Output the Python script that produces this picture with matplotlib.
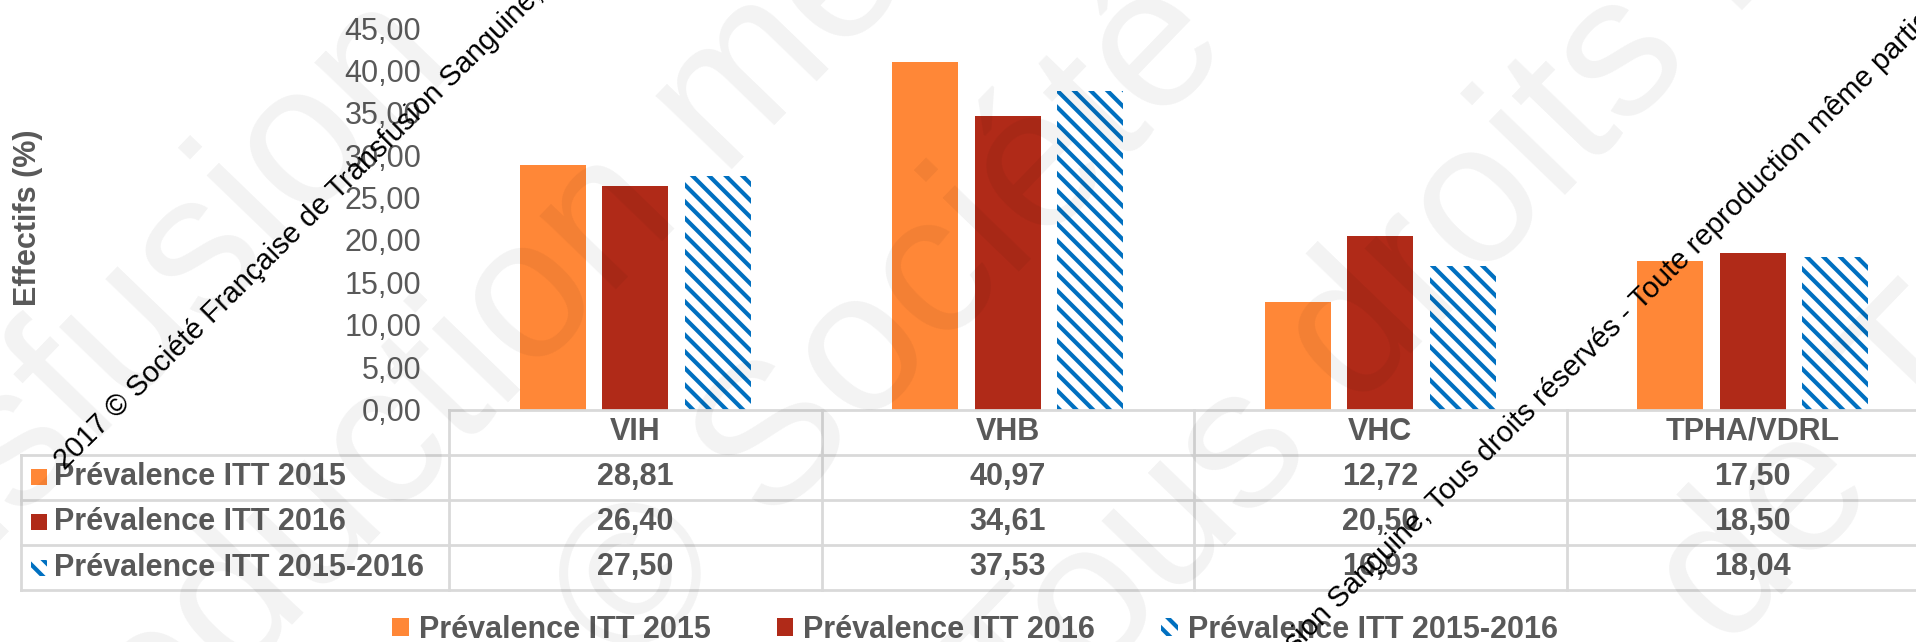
import numpy as np
import matplotlib.pyplot as plt
from matplotlib.ticker import FuncFormatter
from matplotlib.transforms import blended_transform_factory
from matplotlib.patches import Rectangle
from matplotlib.lines import Line2D

# données
categories = ['VIH', 'VHB', 'VHC', 'TPHA/VDRL']
series = ['Prévalence ITT 2015', 'Prévalence ITT 2016', 'Prévalence ITT 2015-2016']
prev_2015 = [28.81, 40.97, 12.72, 17.50]
prev_2016 = [26.40, 34.61, 20.50, 18.50]
prev_2015_2016 = [27.50, 37.53, 16.93, 18.04]
y_ticks = [0, 5, 10, 15, 20, 25, 30, 35, 40, 45]

W, H = 1916, 642
gris = '#595959'
trait = '#D9D9D9'
orange = '#FF8737'
rouge = '#B02A18'
bleu = '#0070C0'

plt.rcParams['font.family'] = ['Liberation Sans', 'DejaVu Sans']
plt.rcParams['hatch.linewidth'] = 3.0


def fmt(v):
    return f'{v:.2f}'.replace('.', ',')


def fy(px):  # pixel depuis le haut -> fraction de figure
    return 1 - px / H


fig = plt.figure(figsize=(W / 100, H / 100), dpi=100, facecolor='white')
ax = fig.add_axes([449 / W, fy(409.5), 1490 / W, (409.5 - 28) / H])

x = np.arange(len(categories))
w = 0.177
b1 = ax.bar(x - 0.222, prev_2015, w, color=orange, lw=0)
b2 = ax.bar(x, prev_2016, w, color=rouge, lw=0)
b3 = ax.bar(x + 0.222, prev_2015_2016, w, color='white', edgecolor=bleu, hatch='\\\\', lw=0)

ax.set_xlim(-0.5, len(categories) - 0.5)
ax.set_ylim(0, 45)
ax.set_yticks(y_ticks)
ax.yaxis.set_major_formatter(FuncFormatter(lambda v, p: fmt(v)))
ax.tick_params(axis='y', length=0, pad=20, labelsize=22, labelcolor=gris)
ax.set_xticks([])
for s in ['left', 'right', 'top']:
    ax.spines[s].set_visible(False)
ax.spines['bottom'].set_color(trait)
ax.spines['bottom'].set_linewidth(2)

fig.text(28 / W, fy(218), 'Effectifs (%)', rotation=90, ha='center', va='center',
         fontsize=22, fontweight='bold', color=gris)

# tableau de données sous le graphique
trans = blended_transform_factory(ax.transData, fig.transFigure)
lignes = [454.5, 499.5, 545, 590]
for y in lignes:
    fig.add_artist(Line2D([21 / W, 1], [fy(y), fy(y)], color=trait, lw=2, transform=fig.transFigure))
fig.add_artist(Line2D([21 / W, 21 / W], [fy(454.5), fy(590)], color=trait, lw=2, transform=fig.transFigure))
for b in np.arange(len(categories) + 1) - 0.5:
    ax.add_artist(Line2D([b, b], [fy(409.5), fy(590)], color=trait, lw=2, transform=trans, clip_on=False))

for i, c in enumerate(categories):
    ax.text(i, fy(432), c, transform=trans, ha='center', va='center', fontsize=22, fontweight='bold', color=gris)

valeurs = [prev_2015, prev_2016, prev_2015_2016]
styles = [dict(facecolor=orange), dict(facecolor=rouge),
          dict(facecolor='white', edgecolor=bleu, hatch='\\\\')]
for r, (nom, vals, st) in enumerate(zip(series, valeurs, styles)):
    yc = (lignes[r] + lignes[r + 1]) / 2
    fig.patches.append(Rectangle((31 / W, fy(yc + 8)), 16 / W, 16 / H, lw=0,
                                 transform=fig.transFigure, **st))
    fig.text(54 / W, fy(yc), nom, ha='left', va='center', fontsize=22, fontweight='bold', color=gris)
    for i, v in enumerate(vals):
        ax.text(i, fy(yc), fmt(v), transform=trans, ha='center', va='center',
                fontsize=22, fontweight='bold', color=gris)

leg = fig.legend([b1, b2, b3], series, loc='center', bbox_to_anchor=(975 / W, fy(630)), ncol=3,
                 frameon=False, prop={'weight': 'bold', 'size': 22}, labelcolor=gris,
                 handlelength=0.55, handleheight=0.55, handletextpad=0.33, columnspacing=2.15)

# filigrane gris en gros caractères
gros = [('Transfusion', 60, 400, 'center'),
        ('reproduction même', 473, 363, 'center'),
        ('© Société Française', 591, 638, 'left'),
        ('Tous droits réservés', 985, 720, 'left'),
        ('de Transfusion', 1688, 617, 'left')]
for txt, px, py, ha in gros:
    fig.text(px / W, fy(py), txt, rotation=46, rotation_mode='anchor', ha=ha, va='center',
             fontsize=144, color=(0, 0, 0, 0.05), zorder=10)

# filigrane noir
mention = '2017 © Société Française de Transfusion Sanguine, Tous droits réservés - Toute reproduction même partielle interdite'
for px, py in [(65, 471), (953, 992)]:
    fig.text(px / W, fy(py), mention, rotation=44.7, rotation_mode='anchor', ha='left', va='baseline',
             fontsize=21, color='black', zorder=11)

fig.savefig('out.png', dpi=100, facecolor='white')
